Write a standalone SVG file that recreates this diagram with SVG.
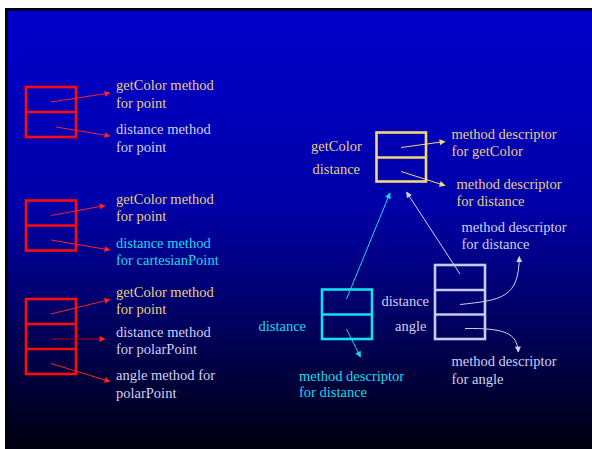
<svg xmlns="http://www.w3.org/2000/svg" width="592" height="449" viewBox="0 0 592 449">
  <defs>
    <linearGradient id="bg" x1="0" y1="0" x2="0" y2="1">
      <stop offset="0" stop-color="#0000CC"/>
      <stop offset="0.45" stop-color="#0000A8"/>
      <stop offset="1" stop-color="#000010"/>
    </linearGradient>
    <marker id="ah-red" viewBox="0 0 10 10" refX="9" refY="5" markerWidth="7" markerHeight="6" markerUnits="userSpaceOnUse" orient="auto">
      <path d="M0,0 L10,5 L0,10 z" fill="#FF2020"/>
    </marker>
    <marker id="ah-dred" viewBox="0 0 10 10" refX="9" refY="5" markerWidth="7" markerHeight="6" markerUnits="userSpaceOnUse" orient="auto">
      <path d="M0,0 L10,5 L0,10 z" fill="#FF2020"/>
    </marker>
    <marker id="ah-yel" viewBox="0 0 10 10" refX="9" refY="5" markerWidth="7" markerHeight="6" markerUnits="userSpaceOnUse" orient="auto">
      <path d="M0,0 L10,5 L0,10 z" fill="#F2D67C"/>
    </marker>
    <marker id="ah-cyan" viewBox="0 0 10 10" refX="9" refY="5" markerWidth="7" markerHeight="6" markerUnits="userSpaceOnUse" orient="auto">
      <path d="M0,0 L10,5 L0,10 z" fill="#10DDEE"/>
    </marker>
    <marker id="ah-lav" viewBox="0 0 10 10" refX="9" refY="5" markerWidth="7" markerHeight="6" markerUnits="userSpaceOnUse" orient="auto">
      <path d="M0,0 L10,5 L0,10 z" fill="#D0D0F4"/>
    </marker>
  </defs>
  <style>
    text { font-family: "Liberation Serif", "Times New Roman", serif; font-size: 14.5px; }
    .yel { fill: #E8CF82; }
    .lav { fill: #D0D0F0; }
    .cyan { fill: #14DCEC; }
    .box { fill: none; stroke-width: 2.6; }
    .red { stroke: #FF0A0A; }
    .gold { stroke: #F4D67A; }
    .cy { stroke: #10E0F0; }
    .lv { stroke: #C8C8F0; }
    .ln { fill: none; stroke-width: 1; }
  </style>

  <!-- slide background -->
  <rect x="5" y="8" width="587" height="441" fill="url(#bg)"/>
  <path d="M6.2,449 V9.2 H592" fill="none" stroke="#000" stroke-width="2.4"/>

  <!-- point vtable -->
  <g id="vt-point">
    <rect class="box red" x="26" y="87" width="50" height="50"/>
    <line class="box red" x1="26" y1="112" x2="76" y2="112"/>
  </g>
  <g id="lbl-point-getColor">
    <text class="yel" x="116" y="90">getColor method</text>
    <text class="yel" x="116" y="107.5">for point</text>
  </g>
  <g id="lbl-point-distance">
    <text class="lav" x="116" y="134">distance method</text>
    <text class="lav" x="116" y="152">for point</text>
  </g>

  <!-- cartesianPoint vtable -->
  <g id="vt-cartesian">
    <rect class="box red" x="26" y="200.5" width="50" height="50"/>
    <line class="box red" x1="26" y1="225.5" x2="76" y2="225.5"/>
  </g>
  <g id="lbl-cart-getColor">
    <text class="yel" x="116" y="203.5">getColor method</text>
    <text class="yel" x="116" y="220.5">for point</text>
  </g>
  <g id="lbl-cart-distance">
    <text class="cyan" x="116" y="247.5">distance method</text>
    <text class="cyan" x="116" y="264.5">for cartesianPoint</text>
  </g>

  <!-- polarPoint vtable -->
  <g id="vt-polar">
    <rect class="box red" x="26" y="299" width="50" height="75"/>
    <line class="box red" x1="26" y1="324" x2="76" y2="324"/>
    <line class="box red" x1="26" y1="349" x2="76" y2="349"/>
  </g>
  <g id="lbl-polar-getColor">
    <text class="yel" x="116" y="296.5">getColor method</text>
    <text class="yel" x="116" y="314">for point</text>
  </g>
  <g id="lbl-polar-distance">
    <text class="lav" x="116" y="336.5">distance method</text>
    <text class="lav" x="116" y="353.5">for polarPoint</text>
  </g>
  <g id="lbl-polar-angle">
    <text class="lav" x="116" y="380">angle method for</text>
    <text class="lav" x="116" y="397.5">polarPoint</text>
  </g>

  <!-- shared method table -->
  <g id="tbl-shared">
    <rect class="box gold" x="376.5" y="132.5" width="49.5" height="49"/>
    <line class="box gold" x1="376.5" y1="157.5" x2="426" y2="157.5"/>
    <text class="yel" x="311" y="151">getColor</text>
    <text class="yel" x="312.5" y="173.5">distance</text>
  </g>
  <g id="lbl-desc-getColor">
    <text class="yel" x="451.5" y="139">method descriptor</text>
    <text class="yel" x="451.5" y="156">for getColor</text>
  </g>
  <g id="lbl-desc-distance-shared">
    <text class="yel" x="456.5" y="189">method descriptor</text>
    <text class="yel" x="456.5" y="205.5">for distance</text>
  </g>

  <!-- cartesianPoint method table -->
  <g id="tbl-cartesian">
    <rect class="box cy" x="322" y="289.5" width="50" height="49.5"/>
    <line class="box cy" x1="322" y1="314.5" x2="372" y2="314.5"/>
    <text class="cyan" x="258.5" y="331">distance</text>
  </g>
  <g id="lbl-desc-distance-cart">
    <text class="cyan" x="299" y="380.5">method descriptor</text>
    <text class="cyan" x="299" y="397">for distance</text>
  </g>

  <!-- polarPoint method table -->
  <g id="tbl-polar">
    <rect class="box lv" x="435" y="265" width="50" height="74"/>
    <line class="box lv" x1="435" y1="290" x2="485" y2="290"/>
    <line class="box lv" x1="435" y1="314.5" x2="485" y2="314.5"/>
    <text class="lav" x="381.5" y="306">distance</text>
    <text class="lav" x="395" y="331">angle</text>
  </g>
  <g id="lbl-desc-distance-polar">
    <text class="lav" x="461.5" y="232">method descriptor</text>
    <text class="lav" x="461.5" y="249">for distance</text>
  </g>
  <g id="lbl-desc-angle">
    <text class="lav" x="451.5" y="365.5">method descriptor</text>
    <text class="lav" x="451.5" y="383.5">for angle</text>
  </g>

  <!-- connectors -->
  <g id="connectors">
    <line class="ln" stroke="#FF2020" x1="51" y1="102" x2="110" y2="93" marker-end="url(#ah-red)"/>
    <line class="ln" stroke="#FF2020" x1="56" y1="127" x2="110" y2="136" marker-end="url(#ah-red)"/>
    <line class="ln" stroke="#FF2020" x1="51" y1="215.5" x2="105" y2="205.5" marker-end="url(#ah-red)"/>
    <line class="ln" stroke="#FF2020" x1="51" y1="240" x2="110" y2="250" marker-end="url(#ah-red)"/>
    <line class="ln" stroke="#FF2020" x1="51" y1="314" x2="110" y2="299.5" marker-end="url(#ah-red)"/>
    <line class="ln" stroke="#B00010" x1="51" y1="339" x2="105" y2="339" marker-end="url(#ah-dred)"/>
    <line class="ln" stroke="#FF2020" x1="51" y1="363.5" x2="110" y2="381.5" marker-end="url(#ah-red)"/>

    <line class="ln" stroke="#F2D67C" x1="401" y1="147.5" x2="445" y2="141.5" marker-end="url(#ah-yel)"/>
    <line class="ln" stroke="#F2D67C" x1="401" y1="171.5" x2="445" y2="185.5" marker-end="url(#ah-yel)"/>

    <line class="ln" stroke="#10DDEE" x1="346.5" y1="299" x2="390" y2="193" marker-end="url(#ah-cyan)"/>
    <line class="ln" stroke="#10DDEE" x1="346.5" y1="329" x2="360.5" y2="357" marker-end="url(#ah-cyan)"/>

    <line class="ln" stroke="#D0D0F4" x1="460" y1="274" x2="406.5" y2="192" marker-end="url(#ah-lav)"/>
    <path class="ln" stroke="#D0D0F4" d="M460,304.5 C502,300 519,298 519.3,256.5" marker-end="url(#ah-lav)"/>
    <path class="ln" stroke="#D0D0F4" d="M465,328.5 C505,328 517,333 518.3,352" marker-end="url(#ah-lav)"/>
  </g>
</svg>
